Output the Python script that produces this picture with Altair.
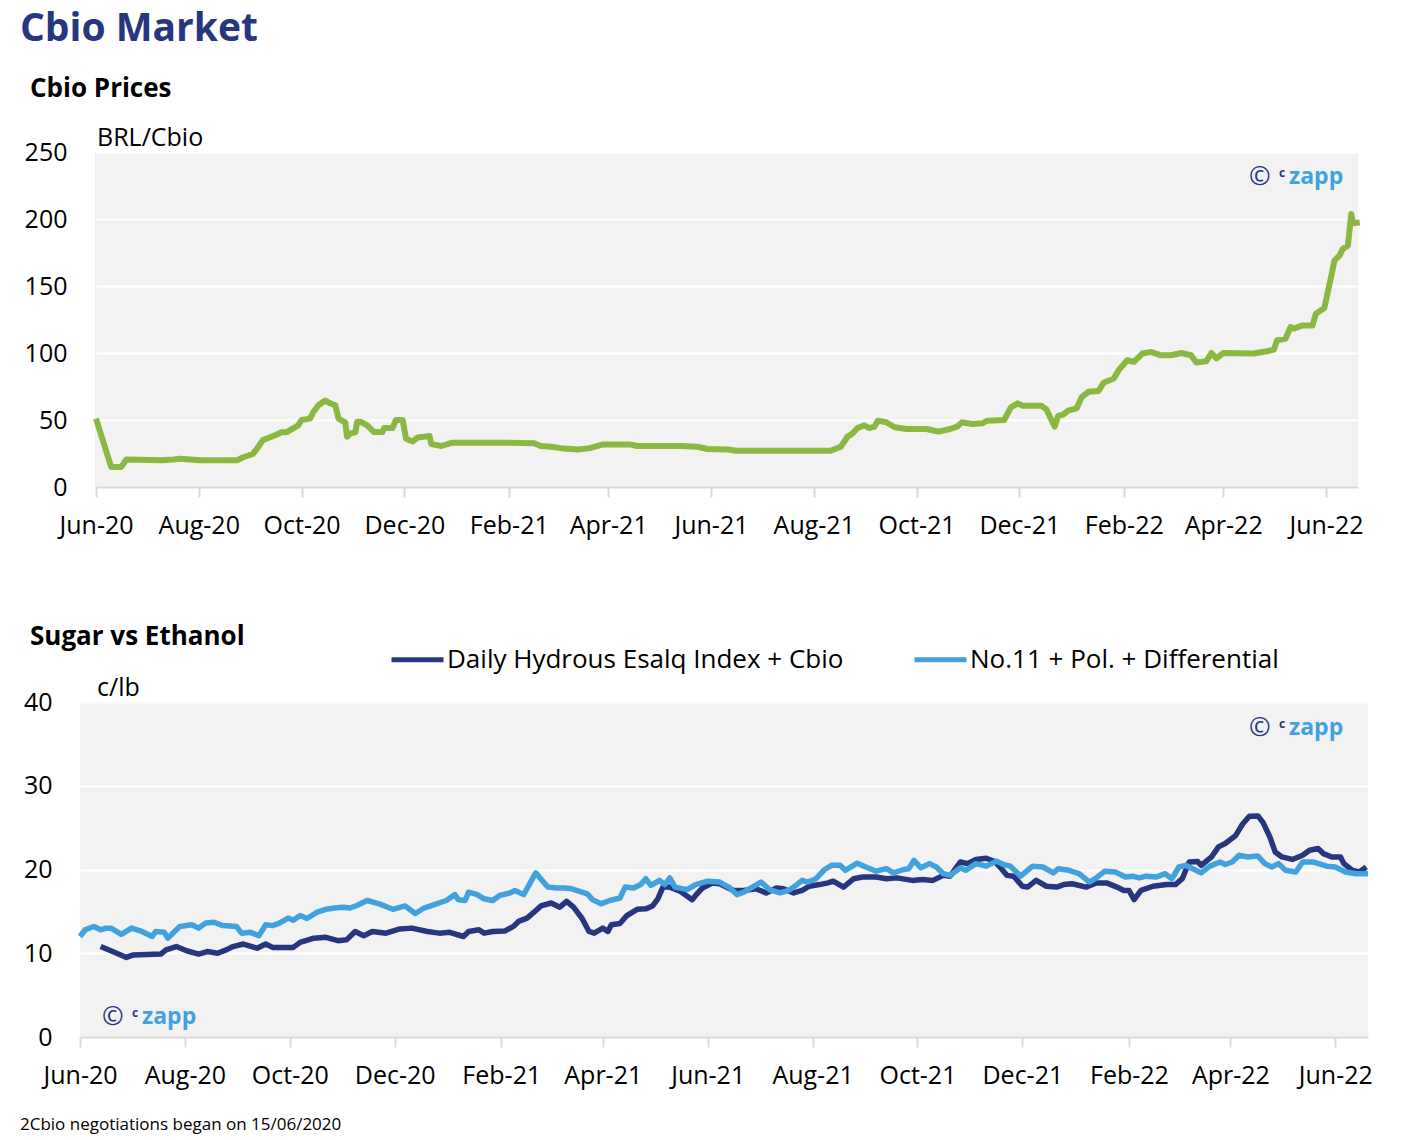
import altair as alt
import pandas as pd

# ---------------- data ----------------
# days counted from 2020-06-01
cbio_day = [
    0, 9, 15, 18, 39, 46, 50, 62, 84, 87,
    93, 95, 99, 103, 107, 110, 113, 116, 120, 122,
    127, 129, 132, 136, 139, 142, 144, 148, 149, 151,
    154, 155, 157, 161, 165, 170, 171, 176, 178, 182,
    184, 188, 191, 198, 199, 205, 211, 244, 260, 264,
    270, 276, 286, 293, 301, 317, 321, 347, 357, 363,
    375, 380, 436, 442, 446, 449, 452, 456, 459, 462,
    464, 469, 474, 481, 493, 500, 507, 511, 514, 520,
    526, 529, 539, 543, 547, 550, 561, 564, 569, 571,
    574, 577, 582, 585, 589, 595, 598, 604, 607, 612,
    616, 621, 626, 632, 638, 644, 650, 653, 659, 662,
    665, 669, 687, 695, 699, 701, 706, 709, 711, 716,
    722, 724, 729, 733, 735, 738, 740, 743, 745, 746, 750,
]
cbio_value = [
    51, 15, 15, 20.5, 20, 20.5, 21, 20, 20, 22,
    24.6, 27.6, 35, 37, 39, 40.8, 40.8, 43, 46, 50,
    51, 56, 61, 64.5, 62.5, 61, 51, 48, 37.5, 40,
    41, 48.7, 48.7, 46, 41, 41, 44, 44, 50, 50,
    36, 34, 37, 38, 32, 30.6, 33, 33, 32.6, 30.6,
    30, 29, 28, 29, 31.8, 31.8, 30.6, 30.6, 30, 28.4,
    28, 27, 27, 30, 37.5, 40, 44, 46, 44, 45,
    49.5, 48.3, 44.6, 43.3, 43.3, 41.3, 43.3, 45, 48.3, 47,
    47.5, 49.5, 50, 59.4, 62.4, 60.6, 60.6, 58, 45, 53,
    54, 57, 58.7, 67, 71, 71.6, 77.8, 81, 87.2, 94.6,
    93.4, 99.6, 100.8, 98.3, 98.3, 100, 98.3, 92.9, 93.9, 100,
    96, 100, 99.6, 101.3, 102.5, 109.5, 110.7, 119.4, 118.2, 120.6,
    120.6, 129.3, 133.5, 156.6, 169, 172.7, 177.7, 180, 203.7, 196.8, 197.5,
]

hyd_day = [
    12, 19, 27, 31, 47, 50, 56, 62, 69, 74,
    80, 85, 89, 95, 103, 108, 112, 124, 128, 136,
    143, 150, 155, 160, 165, 170, 178, 186, 193, 202,
    209, 215, 223, 226, 232, 235, 240, 247, 252, 255,
    260, 264, 268, 274, 279, 283, 287, 292, 296, 299,
    304, 307, 309, 314, 318, 324, 329, 333, 336, 339,
    343, 349, 356, 358, 362, 368, 372, 380, 386, 393,
    399, 405, 409, 415, 420, 424, 430, 435, 438, 444,
    450, 455, 463, 469, 475, 484, 490, 496, 502, 506,
    512, 516, 521, 527, 532, 535, 539, 543, 548, 551,
    556, 562, 568, 572, 577, 585, 591, 597, 603, 607,
    610, 613, 617, 624, 632, 637, 641, 645, 650, 652,
    658, 662, 666, 672, 676, 680, 685, 688, 692, 695,
    699, 705, 711, 715, 720, 723, 728, 733, 735, 740,
    744, 748,
]
hyd_value = [
    10.8, 10.2, 9.5, 9.8, 9.9, 10.4, 10.8, 10.3, 9.9, 10.2,
    10.0, 10.4, 10.8, 11.1, 10.6, 11.1, 10.7, 10.7, 11.3, 11.8,
    11.9, 11.5, 11.6, 12.6, 12.1, 12.6, 12.4, 12.9, 13.0, 12.6,
    12.4, 12.5, 12.0, 12.6, 12.8, 12.4, 12.6, 12.65, 13.2, 13.8,
    14.2, 14.9, 15.65, 16.0, 15.5, 16.2, 15.5, 14.15, 12.6, 12.4,
    13.0, 12.6, 13.4, 13.55, 14.5, 15.25, 15.3, 15.65, 16.5, 17.9,
    17.9, 17.4, 16.4, 16.9, 17.8, 18.4, 18.3, 17.5, 17.5, 17.7,
    17.2, 17.8, 17.7, 17.2, 17.5, 18.0, 18.2, 18.4, 18.6, 17.9,
    18.9, 19.1, 19.1, 18.9, 19.0, 18.7, 18.8, 18.7, 19.3, 19.2,
    20.9, 20.7, 21.2, 21.35, 20.95, 20.3, 19.3, 19.2, 18.0, 17.9,
    18.7, 18.0, 17.9, 18.2, 18.3, 17.9, 18.4, 18.4, 17.9, 17.5,
    17.5, 16.4, 17.5, 18.0, 18.2, 18.2, 18.9, 20.9, 20.95, 20.5,
    21.5, 22.7, 23.1, 24.05, 25.4, 26.35, 26.4, 25.6, 23.85, 22.1,
    21.5, 21.2, 21.7, 22.3, 22.5, 21.9, 21.5, 21.5, 20.7, 19.9,
    19.7, 20.3,
]

no11_day = [
    0, 3, 8, 12, 15, 18, 24, 30, 36, 42,
    44, 49, 51, 58, 65, 69, 73, 78, 83, 91,
    94, 99, 104, 108, 112, 116, 121, 124, 128, 132,
    138, 143, 148, 153, 157, 161, 167, 174, 182, 189,
    195, 200, 206, 213, 218, 220, 224, 226, 231, 235,
    240, 244, 250, 253, 258, 265, 272, 277, 282, 286,
    295, 298, 303, 308, 314, 317, 322, 326, 329, 332,
    337, 340, 343, 346, 353, 358, 365, 372, 378, 382,
    386, 391, 396, 401, 407, 412, 415, 420, 423, 428,
    433, 437, 442, 445, 452, 457, 463, 469, 473, 479,
    482, 485, 489, 494, 498, 502, 506, 512, 515, 521,
    527, 533, 537, 541, 547, 554, 560, 566, 569, 575,
    581, 587, 591, 596, 602, 608, 612, 616, 620, 626,
    631, 635, 639, 643, 647, 652, 657, 663, 666, 670,
    674, 679, 685, 689, 693, 697, 701, 707, 711, 717,
    725, 730, 736, 742, 749,
]
no11_value = [
    12.0, 12.8, 13.2, 12.8, 13.0, 13.0, 12.25, 13.0, 12.6, 12.0,
    12.6, 12.5, 11.8, 13.2, 13.4, 13.0, 13.6, 13.7, 13.3, 13.2,
    12.4, 12.5, 12.1, 13.4, 13.3, 13.6, 14.2, 13.95, 14.5, 14.15,
    14.9, 15.25, 15.4, 15.5, 15.4, 15.7, 16.3, 15.9, 15.25, 15.65,
    14.75, 15.4, 15.8, 16.3, 17.0, 16.4, 16.3, 17.3, 17.0, 16.5,
    16.3, 16.9, 17.2, 17.5, 17.0, 19.6, 17.9, 17.8, 17.8, 17.7,
    17.1, 16.4, 15.9, 16.3, 16.6, 17.9, 17.8, 18.2, 18.9, 18.1,
    18.7, 18.2, 19.0, 17.9, 17.6, 18.2, 18.6, 18.5, 17.8, 17.0,
    17.3, 17.9, 18.5, 17.6, 17.2, 17.5, 17.9, 18.7, 18.5, 18.9,
    20.0, 20.5, 20.5, 19.9, 20.75, 20.3, 19.8, 20.1, 19.6, 20.0,
    20.1, 21.1, 20.2, 20.7, 20.3, 19.5, 19.3, 20.2, 19.9, 20.7,
    20.4, 21.0, 20.6, 20.4, 19.2, 20.4, 20.3, 19.6, 20.1, 19.9,
    19.5, 18.5, 19.0, 19.8, 19.7, 19.1, 19.2, 19.0, 19.2, 19.1,
    19.5, 18.9, 20.3, 20.5, 20.1, 19.6, 20.4, 20.9, 20.6, 20.9,
    21.7, 21.5, 21.6, 20.7, 20.3, 20.7, 19.9, 19.7, 20.9, 20.9,
    20.4, 20.3, 19.7, 19.5, 19.5,
]

series_names = ["Daily Hydrous Esalq Index + Cbio", "No.11 + Pol. + Differential"]
tick_months = [(2020, 6), (2020, 8), (2020, 10), (2020, 12), (2021, 2), (2021, 4),
               (2021, 6), (2021, 8), (2021, 10), (2021, 12), (2022, 2), (2022, 4), (2022, 6)]
cbio_ticks = [0, 50, 100, 150, 200, 250]
sugar_ticks = [0, 10, 20, 30, 40]

# ---------------- styling ----------------
FONT = "Open Sans"
NAVY = "#27367E"
LIGHT = "#41A2DD"
GREEN = "#8BB743"
BG = "#F2F2F2"
GREY = "#D9D9D9"

TOP_W, BOT_W, H = 1278, 1288, 335
TOP_INSET = 16   # top plot area starts 16px right of the bottom one

START = pd.Timestamp("2020-06-01")


def frame(days, values, series=None):
    df = pd.DataFrame({"date": [START + pd.Timedelta(days=int(d)) for d in days],
                       "value": values})
    if series is not None:
        df["series"] = series
    return df


cbio_df = frame(cbio_day, cbio_value)
sugar_df = pd.concat([frame(hyd_day, hyd_value, series_names[0]),
                      frame(no11_day, no11_value, series_names[1])], ignore_index=True)

x_domain = [alt.DateTime(year=2020, month=6, date=1), alt.DateTime(year=2022, month=6, date=20)]
x_ticks = [alt.DateTime(year=y, month=m, date=1) for (y, m) in tick_months]


def x_enc(rng):
    return alt.X("date:T", scale=alt.Scale(domain=x_domain, range=rng),
                 axis=alt.Axis(values=x_ticks, format="%b-%y", title=None, grid=False,
                               domainColor=GREY, domainWidth=2, tickColor=GREY, tickWidth=2,
                               tickSize=10, labelPadding=16, labelFontSize=25, labelFont=FONT,
                               labelColor="black", labelFlush=False, labelOverlap=False,
                               labelBaseline="top", zindex=1))


def y_enc(ticks, pad):
    return alt.Y("value:Q", scale=alt.Scale(domain=[ticks[0], ticks[-1]], nice=False, zero=True),
                 axis=alt.Axis(values=ticks, title=None, domain=False, ticks=False,
                               gridColor="white", gridWidth=2, labelPadding=pad,
                               labelFontSize=25, labelFont=FONT, labelColor="black"))


def text(t, x, y, size, color="black", weight="normal", baseline="alphabetic"):
    return alt.Chart(pd.DataFrame({"t": [t]})).mark_text(
        align="left", baseline=baseline, font=FONT, fontSize=size, color=color,
        fontWeight=weight
    ).encode(x=alt.value(x), y=alt.value(y), text="t:N")


def watermark(x, y):
    return [
        text("\u00a9", x - 1, y, 26, NAVY, baseline="middle"),
        text("c", x + 29, y - 4, 12, NAVY, weight="bold", baseline="middle"),
        text("zapp", x + 39, y + 7, 23, LIGHT, weight="bold"),
    ]


# ---------------- top panel ----------------
# white strip hides the 16px of background left of the top plot area
mask = alt.Chart(pd.DataFrame({"m": [0]})).mark_rect(color="white").encode(
    x=alt.value(0), x2=alt.value(TOP_INSET - 1), y=alt.value(0), y2=alt.value(H))

cbio_line = alt.Chart(cbio_df).mark_line(color=GREEN, strokeWidth=6, strokeJoin="round").encode(
    x=x_enc([TOP_INSET, TOP_W]), y=y_enc(cbio_ticks, 13))

top = alt.layer(
    mask,
    cbio_line,
    text("Cbio Market", -60, -111, 39, NAVY, weight="bold"),
    text("Cbio Prices", -50, -55, 26, "black", weight="bold"),
    text("BRL/Cbio", 17, -6, 25),
    *watermark(1170, 25),
).properties(width=TOP_W, height=H)

# ---------------- bottom panel ----------------
sugar_lines = alt.Chart(sugar_df).mark_line(strokeWidth=5.5, strokeJoin="round").encode(
    x=x_enc([0, BOT_W]), y=y_enc(sugar_ticks, 28),
    color=alt.Color("series:N",
                    scale=alt.Scale(domain=series_names, range=[NAVY, LIGHT]),
                    legend=alt.Legend(orient="none", legendX=309, legendY=-71,
                                      direction="horizontal", title=None,
                                      symbolType="stroke", symbolSize=2704,
                                      symbolStrokeWidth=5, labelFontSize=26,
                                      labelFont=FONT, labelColor="black",
                                      columnPadding=60, labelOffset=1, labelLimit=0)),
)

bottom = alt.layer(
    sugar_lines,
    text("Sugar vs Ethanol", -50, -57, 26, "black", weight="bold"),
    text("c/lb", 17, -6, 25),
    *watermark(1170, 26),
    *watermark(23, 315),
    text("2Cbio negotiations began on 15/06/2020", -60, 428, 17),
).properties(width=BOT_W, height=H)

chart = alt.vconcat(top, bottom, spacing=86).resolve_scale(
    color="independent"
).resolve_legend(color="independent").properties(
    padding={"left": 12, "top": 2, "right": 10, "bottom": 5}
).configure_view(fill=BG, stroke=None)

chart.save("out.html", embed_options={"renderer": "svg", "actions": False})
